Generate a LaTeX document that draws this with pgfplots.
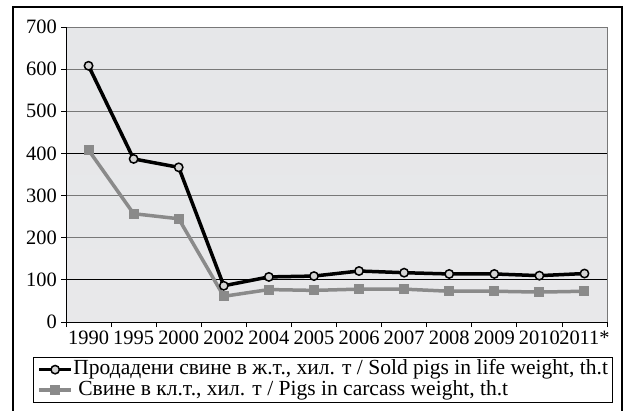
\documentclass[border=0pt]{standalone}
\usepackage{fontspec}
\setmainfont{Liberation Serif}
\usepackage{pgfplots}
\pgfplotsset{compat=1.18}
\definecolor{bgtop}{RGB}{230,231,233}
\definecolor{bgmid}{RGB}{246,246,246}
\definecolor{bgbot}{RGB}{232,232,234}
\definecolor{sgray}{RGB}{138,138,138}
\definecolor{mfill}{RGB}{212,212,212}
\definecolor{gridg}{RGB}{120,120,120}
\begin{document}
\begin{tikzpicture}[x=1bp,y=1bp]
\useasboundingbox (-66,-88) rectangle (558,322);
\begin{axis}[
  name=ax, at={(0,0)}, anchor=south west,
  scale only axis, width=541bp, height=295bp,
  xmin=-0.5, xmax=11.5, ymin=0, ymax=700,
  axis x line*=bottom, axis y line*=left,
  axis line style={black, line width=1bp, -},
  xtick={0,...,11},
  xticklabels={1990,1995,2000,2002,2004,2005,2006,2007,2008,2009,2010,2011*},
  major x tick style={draw=none},
  minor xtick={-0.5,0.5,...,11.5},
  minor x tick style={black, line width=0.8bp},
  minor tick length=5bp,
  ytick={0,200,300,500,600,700},
  extra y ticks={100,400},
  extra y tick style={grid style={black, line width=1bp}},
  ymajorgrids,
  grid style={gridg, line width=1bp},
  major tick length=5bp,
  tick align=outside,
  y tick style={black, line width=0.8bp},
  tick label style={font=\fontsize{20.5}{22}\selectfont},
  /pgf/number format/assume math mode=true,
  xticklabel style={inner sep=1bp, yshift=-3bp},
  yticklabel style={inner sep=2bp, xshift=-2bp},
  axis background/.style={top color=bgtop, middle color=bgmid, bottom color=bgbot},
  legend style={at={(-0.061,-0.1186)}, anchor=north west, draw=black, line width=0.8bp,
    font=\fontsize{21.6}{22}\selectfont, inner xsep=4bp, inner ysep=2bp, row sep=0bp,
    nodes={inner xsep=0.5bp, inner ysep=0bp, text height=15.5bp, text depth=5bp}},
  legend cell align=left,
  legend image code/.code={\draw[#1, mark repeat=2, mark phase=2] plot coordinates {(0bp,0bp) (16bp,0bp) (32bp,0bp)};},
  clip=false,
]
\addplot[black, line width=3.5bp, mark=*, mark size=4.2bp,
  mark options={fill=mfill, draw=black, line width=1.5bp}]
  coordinates {(0,608) (1,387) (2,367) (3,86) (4,107) (5,109) (6,121) (7,117) (8,114) (9,114) (10,110) (11,115)};
\addlegendentry{Продадени свине в ж.т., хил. т / Sold pigs in life weight, th.t}
\addplot[sgray, line width=3.5bp, mark=square*, mark size=4.5bp,
  mark options={fill=sgray, draw=sgray, line width=0bp}]
  coordinates {(0,408) (1,257) (2,245) (3,61) (4,77) (5,75) (6,78) (7,78) (8,73) (9,73) (10,71) (11,73)};
\addlegendentry{\hspace{5bp}Свине в кл.т., хил. т / Pigs in carcass weight, th.t}
\end{axis}
\draw[gridg, line width=1bp] (ax.south east) -- (ax.north east);
\draw[black, line width=1.5bp] (-53,-100) -- (-53,315) -- (556,315) -- (556,-100);
\end{tikzpicture}
\end{document}
